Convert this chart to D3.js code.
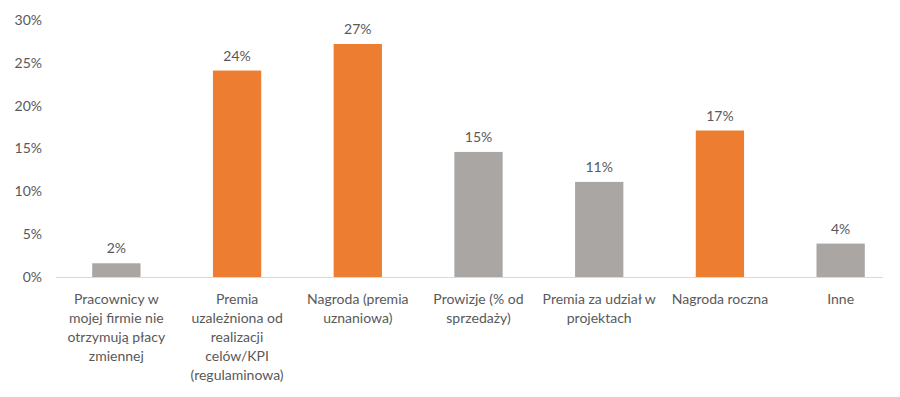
<!DOCTYPE html>
<html>
<head>
<meta charset="utf-8">
<script src="https://cdn.jsdelivr.net/npm/d3@7"></script>
<style>
  body { margin: 0; background: #fff; }
  svg text { font-family: Lato, "Open Sans", sans-serif; fill: #595959; }
</style>
</head>
<body>
<svg id="chart" width="900" height="397"></svg>
<script>
// dane
var categories = [
    "Pracownicy w mojej firmie nie otrzymują płacy zmiennej",
    "Premia uzależniona od realizacji celów/KPI (regulaminowa)",
    "Nagroda (premia uznaniowa)",
    "Prowizje (% od sprzedaży)",
    "Premia za udział w projektach",
    "Nagroda roczna",
    "Inne"
];
// podział etykiet na linie jak w oryginale
var labelLines = [
    ["Pracownicy w", "mojej firmie nie", "otrzymują płacy", "zmiennej"],
    ["Premia", "uzależniona od", "realizacji", "celów/KPI", "(regulaminowa)"],
    ["Nagroda (premia", "uznaniowa)"],
    ["Prowizje (% od", "sprzedaży)"],
    ["Premia za udział w", "projektach"],
    ["Nagroda roczna"],
    ["Inne"]
];
var values = [1.6, 24.1, 27.2, 14.6, 11.1, 17.1, 3.9];
var highlighted = [false, true, true, false, false, true, false];
var yTicks = [0, 5, 10, 15, 20, 25, 30];

var svg = d3.select("#chart");
var margin = { left: 56, top: 20, bottom: 277 };

var x = d3.scaleBand()
    .domain(categories)
    .range([margin.left, 901])
    .paddingInner(0.6)
    .paddingOuter(0.3);

var y = d3.scaleLinear()
    .domain([0, 30])
    .range([margin.bottom, margin.top]);

// oś Y - tylko etykiety
var yAxis = d3.axisLeft(y)
    .tickValues(yTicks)
    .tickSize(0)
    .tickPadding(14)
    .tickFormat(function (d) { return d + "%"; });
var gy = svg.append("g")
    .attr("transform", "translate(" + margin.left + ",0)")
    .call(yAxis);
gy.select(".domain").remove();
gy.selectAll("text")
    .style("font-size", "14px")
    .attr("fill", "#595959");

// linia bazowa
svg.append("line")
    .attr("x1", margin.left)
    .attr("x2", 883)
    .attr("y1", y(0) + 0.5)
    .attr("y2", y(0) + 0.5)
    .attr("stroke", "#d9d9d9")
    .attr("stroke-width", 1);

// słupki
svg.selectAll(".bar")
    .data(values)
    .enter().append("rect")
    .attr("class", "bar")
    .attr("x", function (d, i) { return x(categories[i]); })
    .attr("width", x.bandwidth())
    .attr("y", function (d) { return y(d); })
    .attr("height", function (d) { return y(0) - y(d); })
    .attr("fill", function (d, i) { return highlighted[i] ? "#ed7d31" : "#a9a6a4"; });

// etykiety wartości
svg.selectAll(".val")
    .data(values)
    .enter().append("text")
    .attr("class", "val")
    .attr("x", function (d, i) { return x(categories[i]) + x.bandwidth() / 2; })
    .attr("y", function (d) { return y(d) - 10; })
    .attr("text-anchor", "middle")
    .style("font-size", "14px")
    .text(function (d) { return Math.round(d) + "%"; });

// etykiety kategorii
var catG = svg.selectAll(".cat")
    .data(categories)
    .enter().append("text")
    .attr("class", "cat")
    .attr("text-anchor", "middle")
    .style("font-size", "14px");
catG.each(function (d, i) {
    var t = d3.select(this);
    var cx = x(d) + x.bandwidth() / 2;
    labelLines[i].forEach(function (line, k) {
        t.append("tspan")
            .attr("x", cx)
            .attr("y", 304 + k * 19)
            .text(line);
    });
});
</script>
</body>
</html>
